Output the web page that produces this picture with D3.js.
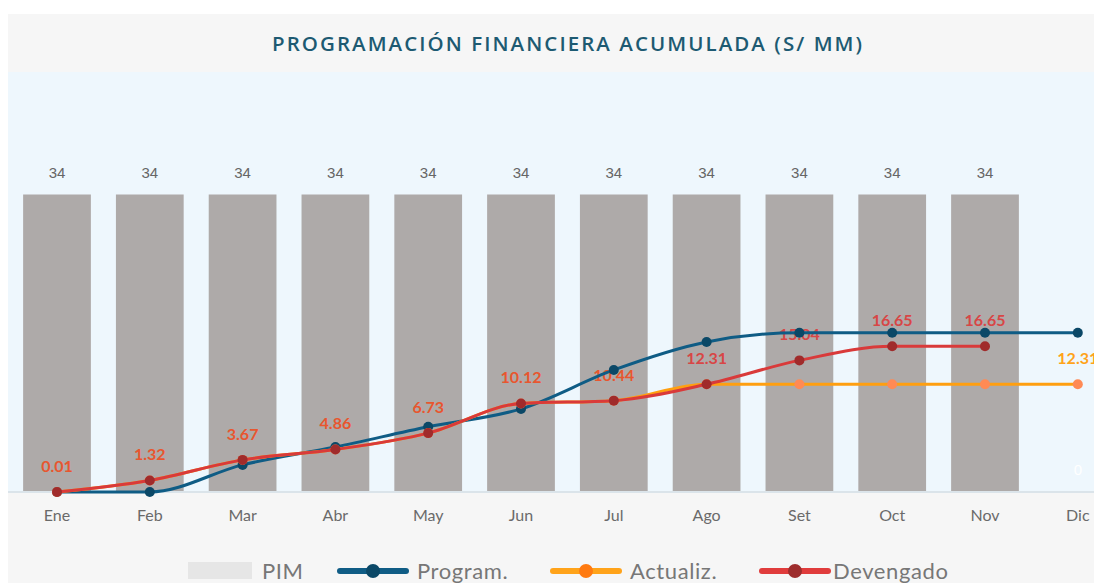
<!DOCTYPE html>
<html>
<head>
<meta charset="utf-8">
<script src="https://cdn.jsdelivr.net/npm/d3@7"></script>
<style>
  html, body { margin: 0; padding: 0; background: #ffffff; overflow: hidden; }
  svg { display: block; }
</style>
</head>
<body>
<div id="mainContainer"><svg></svg></div>
<script>
const SVG_WIDTH = 1094;
const SVG_HEIGHT = 583;

// data
const months = ["Ene", "Feb", "Mar", "Abr", "May", "Jun", "Jul", "Ago", "Set", "Oct", "Nov", "Dic"];
const pim = [34, 34, 34, 34, 34, 34, 34, 34, 34, 34, 34, 0];
const program = [0, 0, 3.1, 5.15, 7.45, 9.5, 13.95, 17.15, 18.2, 18.2, 18.2, 18.2];
const actualiz = [0.01, 1.32, 3.67, 4.86, 6.73, 10.12, 10.44, 12.31, 12.31, 12.31, 12.31, 12.31];
const devengado = [0.01, 1.32, 3.67, 4.86, 6.73, 10.12, 10.44, 12.31, 15.04, 16.65, 16.65, null];

const svg = d3.select('svg')
    .attr('width', SVG_WIDTH)
    .attr('height', SVG_HEIGHT);

// card + plot background
svg.append('rect').attr('x', 8).attr('y', 14).attr('width', SVG_WIDTH).attr('height', SVG_HEIGHT)
    .attr('fill', '#f6f6f6');
svg.append('rect').attr('x', 8).attr('y', 72).attr('width', SVG_WIDTH).attr('height', 420)
    .attr('fill', '#eef7fd');

svg.append('text')
    .attr('x', 272).attr('y', 51)
    .attr('font-family', 'Open Sans')
    .attr('font-weight', 600)
    .attr('font-size', 20.5)
    .attr('textLength', 590)
    .attr('lengthAdjust', 'spacing')
    .attr('fill', '#1d5a72')
    .text('PROGRAMACIÓN FINANCIERA ACUMULADA (S/ MM)');

const x = d3.scaleBand()
    .domain(months)
    .range([10.6, 10.6 + 92.8 * 12])
    .paddingInner(0.27)
    .paddingOuter(0.135);
const cx = m => x(m) + x.bandwidth() / 2;

const y = d3.scaleLinear().domain([0, 48]).range([492, 72]);

// bars
svg.append('g').selectAll('rect')
    .data(pim)
    .join('rect')
    .attr('x', (d, i) => x(months[i]))
    .attr('y', d => y(d))
    .attr('width', x.bandwidth())
    .attr('height', d => y(0) - y(d))
    .attr('fill', '#aeaaa9');

svg.append('g').selectAll('text')
    .data(pim)
    .join('text')
    .attr('x', (d, i) => cx(months[i]))
    .attr('y', d => y(d) - 17)
    .attr('text-anchor', 'middle')
    .attr('font-family', 'Liberation Sans, Arial')
    .attr('font-size', 15)
    .attr('fill', d => d === 0 ? '#ffffff' : '#666666')
    .text(d => d);

// x axis
const xAxis = svg.append('g')
    .attr('transform', `translate(0,${y(0)})`)
    .call(d3.axisBottom(x).tickSize(0).tickPadding(18));
xAxis.select('.domain').attr('stroke', '#dbe4ea').attr('stroke-width', 2)
    .attr('d', `M8,0H${SVG_WIDTH}`);
xAxis.selectAll('text')
    .attr('font-family', 'Lato')
    .attr('font-size', 16)
    .attr('fill', '#6a6a6a');

// value labels (under the lines)
const labels = svg.append('g');
labels.selectAll('text')
    .data(devengado.map((d, i) => [i, d]).filter(p => p[1] !== null))
    .join('text')
    .attr('x', p => cx(months[p[0]]))
    .attr('y', p => y(p[1]) - 20)
    .attr('text-anchor', 'middle')
    .attr('font-family', 'Lato')
    .attr('font-weight', 'bold')
    .attr('font-size', 16)
    .attr('fill', p => p[0] < 7 ? '#e8562f' : '#d84646')
    .text(p => p[1].toFixed(2));
labels.append('text')
    .attr('x', cx('Dic'))
    .attr('y', y(actualiz[11]) - 20)
    .attr('text-anchor', 'middle')
    .attr('font-family', 'Lato')
    .attr('font-weight', 'bold')
    .attr('font-size', 16)
    .attr('fill', '#ffa31a')
    .text(actualiz[11].toFixed(2));

function drawSeries(values, lineColor, dotColor) {
    const pts = values.map((d, i) => [i, d]).filter(p => p[1] !== null);
    const line = d3.line()
        .x(p => cx(months[p[0]]))
        .y(p => y(p[1]))
        .curve(d3.curveMonotoneX);
    svg.append('path')
        .attr('d', line(pts))
        .attr('fill', 'none')
        .attr('stroke', lineColor)
        .attr('stroke-width', 3);
    svg.append('g').selectAll('circle')
        .data(pts)
        .join('circle')
        .attr('cx', p => cx(months[p[0]]))
        .attr('cy', p => y(p[1]))
        .attr('r', 5)
        .attr('fill', dotColor);
}

drawSeries(program, '#0f5c85', '#0b4867');
drawSeries(actualiz, '#ff9f10', '#ff8a55');
drawSeries(devengado, '#d93a3a', '#a02b2b');

// legend
const legend = svg.append('g').attr('font-family', 'Lato').attr('font-size', 22)
    .attr('letter-spacing', 0.6).attr('fill', '#777777');
legend.append('rect').attr('x', 188).attr('y', 562).attr('width', 64).attr('height', 17).attr('fill', '#e6e6e6');
legend.append('text').attr('x', 262).attr('y', 579).text('PIM');

const legendItems = [
    { x: 340, dx: 77, name: 'Program.', line: '#0f5c85', dot: '#0b4867' },
    { x: 553, dx: 77, name: 'Actualiz.', line: '#ffa31a', dot: '#ff7a10' },
    { x: 762, dx: 71, name: 'Devengado', line: '#e03c3c', dot: '#9e2d2d' }
];
legendItems.forEach(item => {
    legend.append('line')
        .attr('x1', item.x).attr('x2', item.x + 66)
        .attr('y1', 571).attr('y2', 571)
        .attr('stroke', item.line).attr('stroke-width', 6).attr('stroke-linecap', 'round');
    legend.append('circle').attr('cx', item.x + 33).attr('cy', 571).attr('r', 7).attr('fill', item.dot);
    legend.append('text').attr('x', item.x + item.dx).attr('y', 579).text(item.name);
});
</script>
</body>
</html>
